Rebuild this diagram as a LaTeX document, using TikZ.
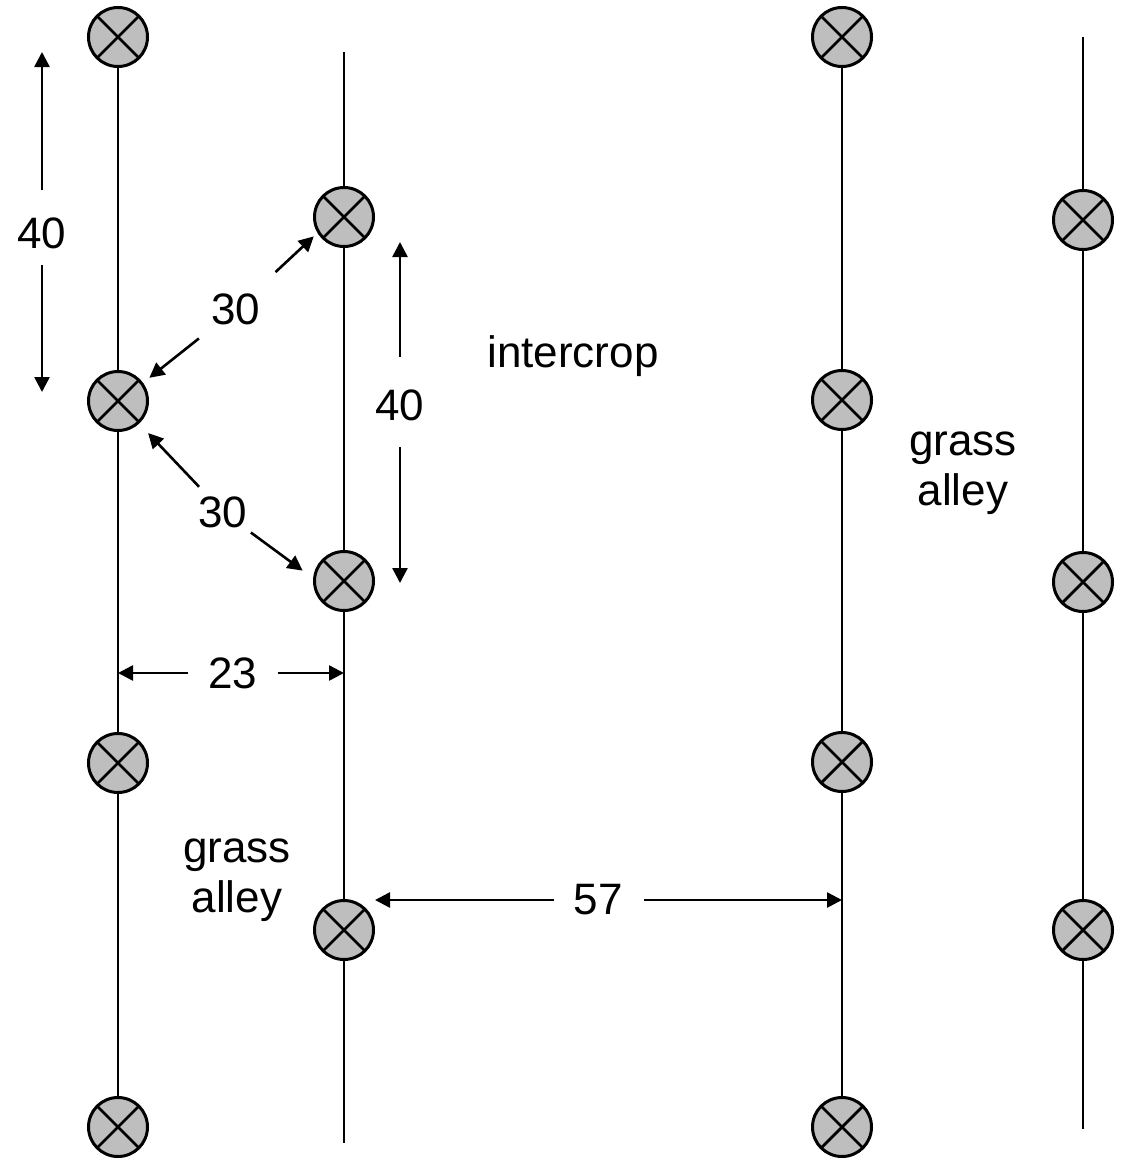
\documentclass[tikz,border=0pt]{standalone}
\usepackage{fontspec}
\setmainfont{Liberation Sans}
\usepackage{xcolor}
\definecolor{mgray}{RGB}{190,190,190}
\usepackage{tikz}
\usetikzlibrary{arrows.meta}

\begin{document}
\begin{tikzpicture}[x=1pt, y=-1pt,
    plant/.style={circle, draw, line width=3pt, fill=mgray, minimum size=59pt, inner sep=0pt,
        path picture={\draw[line width=2.8pt] (path picture bounding box.north west) -- (path picture bounding box.south east)
            (path picture bounding box.north east) -- (path picture bounding box.south west);}},
    treeline/.style={line width=2.8pt},
    txt/.style={font=\fontsize{44}{50}\selectfont, inner sep=0pt, align=center},
    dimarrow/.style={-{Triangle[length=15pt, width=15pt]}, line width=2.6pt},
]
\useasboundingbox (0,0) rectangle (1128,1167);

\node[plant] (a1) at (118,37) {};
\node[plant] (a2) at (118,401) {};
\node[plant] (a3) at (118,763) {};
\node[plant] (a4) at (118,1127) {};
\node[plant] (b1) at (344,217) {};
\node[plant] (b2) at (344,581) {};
\node[plant] (b3) at (344,930) {};
\node[plant] (c1) at (842,37) {};
\node[plant] (c2) at (842,400) {};
\node[plant] (c3) at (842,762) {};
\node[plant] (c4) at (842,1127) {};
\node[plant] (d1) at (1083,220) {};
\node[plant] (d2) at (1083,582) {};
\node[plant] (d3) at (1083,930) {};

\coordinate (b_top) at (344,52);
\coordinate (b_bottom) at (344,1143);
\coordinate (d_top) at (1083,37);
\coordinate (d_bottom) at (1083,1129);

\draw[treeline] (a1) -- (a2) -- (a3) -- (a4);
\draw[treeline] (b_top) -- (b1) -- (b2) -- (b3) -- (b_bottom);
\draw[treeline] (c1) -- (c2) -- (c3) -- (c4);
\draw[treeline] (d_top) -- (d1) -- (d2) -- (d3) -- (d_bottom);

\node[txt] (intercrop) at (573,356) {intercrop};
\node[txt] (alley_left) at (237,880) {grass\\alley};
\node[txt] (alley_right) at (963,473) {grass\\alley};

\node[txt] (forty_left) at (42,233) {40};
\node[txt] (forty_mid) at (400,405) {40};
\node[txt] (thirty_up) at (236,309) {30};
\node[txt] (thirty_low) at (223,512) {30};
\node[txt] (twentythree) at (233,673) {23};
\node[txt] (fiftyseven) at (598,900) {57};

% free ends of the dimension arrows
\coordinate (forty_left_top) at (42,52);
\coordinate (forty_left_bot) at (42,392);
\coordinate (forty_mid_top) at (400,242);
\coordinate (forty_mid_bot) at (400,583);
\coordinate (ab_left) at (118,673);
\coordinate (ab_right) at (344,673);
\coordinate (bc_left) at (375,900);
\coordinate (bc_right) at (842,900);

\draw[dimarrow, shorten <=27pt] (forty_left) -- (forty_left_top);
\draw[dimarrow, shorten <=16pt] (forty_left) -- (forty_left_bot);
\draw[dimarrow, shorten <=32pt] (forty_mid) -- (forty_mid_top);
\draw[dimarrow, shorten <=26pt] (forty_mid) -- (forty_mid_bot);
\draw[dimarrow, shorten <=31pt, shorten >=5pt] (thirty_up) -- (b1.211);
\draw[dimarrow, shorten <=22pt, shorten >=8pt] (thirty_up) -- (a2.36);
\draw[dimarrow, shorten <=13pt, shorten >=13pt] (thirty_low) -- (a2.-47);
\draw[dimarrow, shorten <=8pt, shorten >=13pt] (thirty_low) -- (b2.175);
\draw[dimarrow, shorten <=20pt] (twentythree) -- (ab_left);
\draw[dimarrow, shorten <=20pt] (twentythree) -- (ab_right);
\draw[dimarrow, shorten <=19pt] (fiftyseven) -- (bc_left);
\draw[dimarrow, shorten <=21pt] (fiftyseven) -- (bc_right);

\end{tikzpicture}
\end{document}
